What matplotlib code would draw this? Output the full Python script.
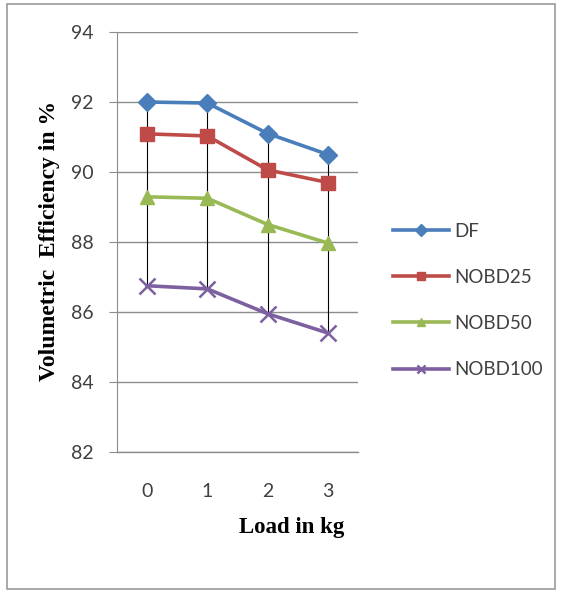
import matplotlib
matplotlib.use("Agg")
import matplotlib.pyplot as plt
from matplotlib.patches import Rectangle
import numpy as np

loads = [0, 1, 2, 3]
df = [92.0, 91.97, 91.1, 90.5]
nobd25 = [91.09, 91.03, 90.06, 89.7]
nobd50 = [89.29, 89.25, 88.5, 87.97]
nobd100 = [86.75, 86.66, 85.95, 85.4]
series_names = ["DF", "NOBD25", "NOBD50", "NOBD100"]
yticks = [82, 84, 86, 88, 90, 92, 94]

series = [df, nobd25, nobd50, nobd100]
colors = ["#4A7EBB", "#BE4B48", "#98B954", "#7D60A0"]
markers = ["D", "s", "^", "x"]
msizes = [9, 10, 9.5, 11]

fig = plt.figure(figsize=(5.61, 5.94), dpi=100)
fig.patch.set_facecolor("white")
ax = fig.add_axes([117/561, 1-452/594, 241/561, 420/594])

x = np.arange(len(loads))
allv = np.array(series)
ax.vlines(x, allv.min(axis=0), allv.max(axis=0), colors="black", linewidth=0.8, zorder=2)

for vals, c, m, ms, name in zip(series, colors, markers, msizes, series_names):
    ax.plot(x, vals, color=c, marker=m, markersize=ms, linewidth=2.6,
            markeredgewidth=1.8 if m == "x" else 1.0, markeredgecolor=c,
            label=name, zorder=3)

ax.set_xlim(-0.5, len(loads) - 0.5)
ax.set_ylim(min(yticks), max(yticks))
ax.set_yticks(yticks)
ax.set_xticks(x)
ax.set_xticklabels([str(v) for v in loads])
ax.grid(axis="y", color="#8c8c8c", linewidth=1.0, zorder=1)
ax.set_axisbelow(True)
for s in ["top", "right"]:
    ax.spines[s].set_visible(False)
ax.spines["left"].set_color("#8c8c8c")
ax.spines["bottom"].set_color("#8c8c8c")
ax.spines["bottom"].set_linewidth(1.0)
ax.tick_params(axis="y", length=6, color="#8c8c8c", pad=11, labelsize=14, labelcolor="#404040")
ax.tick_params(axis="x", length=0, pad=22, labelsize=14, labelcolor="#404040")
for lab in ax.get_xticklabels() + ax.get_yticklabels():
    lab.set_fontfamily("Lato")

fig.text(292/561, 1-527/594, "Load in kg", ha="center", va="center",
         family="Liberation Serif", fontweight="bold", fontsize=16.5)
fig.text(50/561, 1-241/594, "Volumetric  Efficiency in %", ha="center", va="center",
         rotation=90, family="Liberation Serif", fontweight="bold", fontsize=17)

leg = fig.legend(loc="center left", bbox_to_anchor=(393/561, 1-300.5/594),
                 frameon=False, borderpad=0, borderaxespad=0, handlelength=3.0,
                 handletextpad=0.25, labelspacing=1.55,
                 prop={"family": "Lato", "size": 13.5})
for t in leg.get_texts():
    t.set_color("#404040")
for h in leg.legend_handles:
    h.set_markersize(6)

fig.patches.append(Rectangle((7/561, 1-589/594), 548/561, 585/594, transform=fig.transFigure,
                             fill=False, edgecolor="#9a9a9a", linewidth=1.2))

fig.savefig("out.png", dpi=100)
